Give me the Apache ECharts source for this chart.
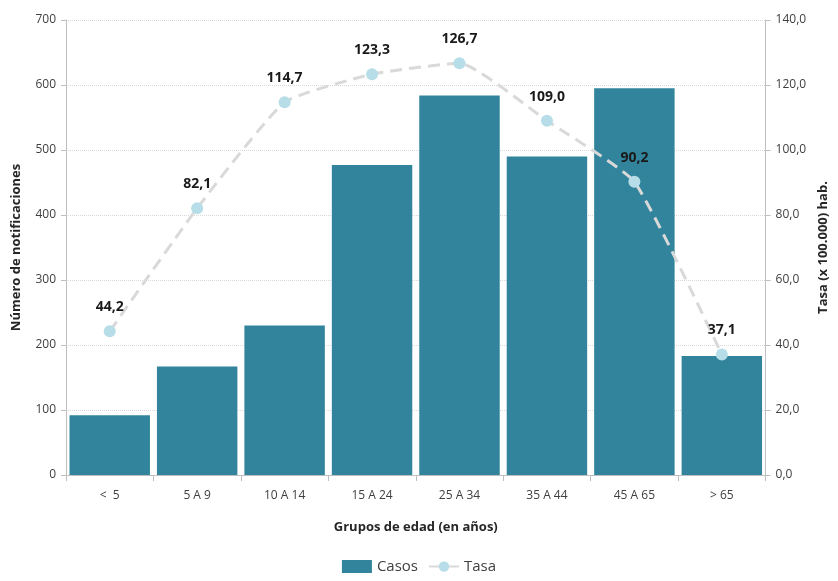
<!DOCTYPE html>
<html><head><meta charset="utf-8">
<script src="https://cdn.jsdelivr.net/npm/echarts@6/dist/echarts.min.js"></script>
<style>html,body{margin:0;padding:0;background:#fff}#c{width:838px;height:581px}</style>
</head><body><div id="c"></div>
<script>
const categories = ['<  5', '5 A 9', '10 A 14', '15 A 24', '25 A 34', '35 A 44', '45 A 65', '> 65'];
const casos = [92, 167, 230, 477, 584, 490, 595, 183];
const tasa = [44.2, 82.1, 114.7, 123.3, 126.7, 109.0, 90.2, 37.1];
const leftTicks = [0, 100, 200, 300, 400, 500, 600, 700];
const rightTicks = [0, 20, 40, 60, 80, 100, 120, 140];

const FONT = 'Open Sans';
const chart = echarts.init(document.getElementById('c'));
const fmt = v => v.toFixed(1).replace('.', ',');
chart.setOption({
  animation: false,
  textStyle: {fontFamily: FONT},
  grid: {left: 66, right: 71, top: 20, bottom: 106},
  legend: {
    bottom: 2, left: 'center', itemGap: 10, itemWidth: 30, itemHeight: 13,
    textStyle: {fontFamily: FONT, fontSize: 15, color: '#404040'},
    data: [{name: 'Casos', icon: 'rect'}, {name: 'Tasa'}]
  },
  xAxis: {
    type: 'category', data: categories,
    name: 'Grupos de edad (en años)', nameLocation: 'middle', nameGap: 46,
    nameTextStyle: {fontFamily: FONT, fontSize: 13, fontWeight: 'bold', color: '#262626'},
    axisLine: {lineStyle: {color: '#bfbfbf', width: 1}},
    axisTick: {show: true, length: 6, lineStyle: {color: '#bfbfbf'}},
    axisLabel: {fontFamily: FONT, fontSize: 12, color: '#404040', margin: 15}
  },
  yAxis: [{
    type: 'value', min: leftTicks[0], max: leftTicks[leftTicks.length - 1], interval: 100,
    name: 'Número de notificaciones', nameLocation: 'middle', nameGap: 43, nameRotate: 90,
    nameTextStyle: {fontFamily: FONT, fontSize: 13, fontWeight: 'bold', color: '#262626'},
    axisLine: {show: true, lineStyle: {color: '#bfbfbf'}},
    axisTick: {show: true, length: 5, lineStyle: {color: '#bfbfbf'}},
    axisLabel: {fontFamily: FONT, fontSize: 12, color: '#404040', margin: 10},
    splitLine: {show: true, lineStyle: {color: '#d9d9d9', type: 'dotted'}}
  }, {
    type: 'value', min: rightTicks[0], max: rightTicks[rightTicks.length - 1], interval: 20,
    position: 'right',
    name: 'Tasa (x 100.000) hab.', nameLocation: 'middle', nameGap: 49, nameRotate: 90,
    nameTextStyle: {fontFamily: FONT, fontSize: 13, fontWeight: 'bold', color: '#262626'},
    axisLine: {show: true, lineStyle: {color: '#bfbfbf'}},
    axisTick: {show: true, length: 5, lineStyle: {color: '#bfbfbf'}},
    axisLabel: {fontFamily: FONT, fontSize: 12, color: '#404040', margin: 10, formatter: v => fmt(v)},
    splitLine: {show: false}
  }],
  series: [{
    name: 'Casos', type: 'bar', data: casos, yAxisIndex: 0,
    barCategoryGap: '8%',
    itemStyle: {color: '#31849b'}
  }, {
    name: 'Tasa', type: 'line', data: tasa, yAxisIndex: 1,
    smooth: 0.15,
    symbol: 'circle', symbolSize: 12,
    lineStyle: {color: '#d9d9d9', width: 3, type: [12, 7]},
    itemStyle: {color: '#b7dee8'},
    label: {show: true, position: 'top', distance: 11, formatter: p => fmt(p.value),
      fontFamily: FONT, fontSize: 14, fontWeight: 'bold', color: '#1a1a1a'},
    z: 5
  }]
});
</script></body></html>
